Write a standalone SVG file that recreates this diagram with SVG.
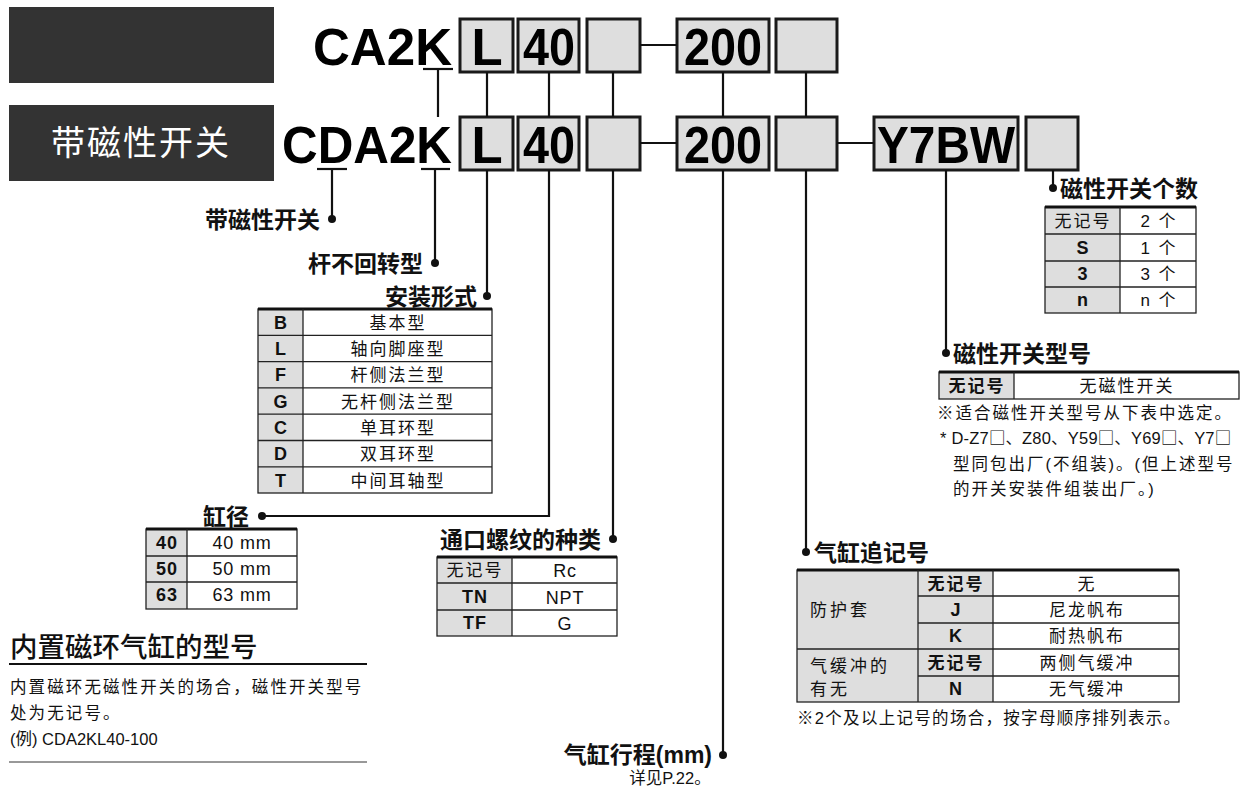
<svg xmlns="http://www.w3.org/2000/svg" width="1241" height="790" viewBox="0 0 1241 790">
<style>
.big{font-family:"Liberation Sans",Arial,sans-serif;font-weight:bold;font-size:51px;fill:#000}
.box{fill:#dedede;stroke:#1a1a1a;stroke-width:3}
.ln{stroke:#111;stroke-width:2.2;fill:none}
.dot{fill:#111}
.lab{font-family:"Noto Sans CJK SC","Liberation Sans",sans-serif;font-weight:bold;font-size:23px;fill:#111}
.cj{font-family:"Liberation Sans","Noto Sans CJK SC",sans-serif;font-size:17px;fill:#111;letter-spacing:2px}
.la{font-family:"Liberation Sans",Arial,sans-serif;font-size:18px;fill:#111;letter-spacing:0.8px}
.cb{font-family:"Liberation Sans","Noto Sans CJK SC",sans-serif;font-size:18px;font-weight:bold;fill:#111;letter-spacing:1px}
.c{text-anchor:middle}
.hd{fill:#dedede}
.tl{stroke:#222;stroke-width:1.3;fill:none}
.tk{stroke:#111;stroke-width:3}
.note{font-family:"Liberation Sans","Noto Sans CJK SC",sans-serif;font-size:16.5px;fill:#111;letter-spacing:2px}
.sq{font-family:"Noto Sans CJK SC",sans-serif;letter-spacing:0}
</style>

<g id="header-boxes">
<rect x="9" y="7" width="265" height="76" fill="#333"/>
<rect x="9" y="105" width="265" height="76" fill="#333"/>
<text x="141" y="155" fill="#fff" font-family="Noto Sans CJK SC,sans-serif" font-size="34" letter-spacing="2" text-anchor="middle">带磁性开关</text>
</g>

<g id="row1">
<text class="big" x="313" y="65" textLength="139" lengthAdjust="spacingAndGlyphs">CA2K</text>
<line class="ln" x1="423" y1="69" x2="453" y2="69"/>
<rect class="box" x="460" y="19" width="53" height="53"/>
<text class="big c" x="487" y="65">L</text>
<rect class="box" x="518" y="19" width="61" height="53"/>
<text class="big" x="523" y="65" textLength="52" lengthAdjust="spacingAndGlyphs">40</text>
<rect class="box" x="587" y="19" width="53" height="53"/>
<rect class="box" x="677" y="19" width="92" height="53"/>
<text class="big" x="684" y="65" textLength="78" lengthAdjust="spacingAndGlyphs">200</text>
<rect class="box" x="776" y="19" width="61" height="53"/>
</g>

<g id="row2">
<text class="big" x="282" y="163" textLength="170" lengthAdjust="spacingAndGlyphs">CDA2K</text>
<line class="ln" x1="317" y1="169" x2="347" y2="169"/>
<line class="ln" x1="421" y1="169" x2="450" y2="169"/>
<rect class="box" x="460" y="117" width="53" height="53"/>
<text class="big c" x="487" y="163">L</text>
<rect class="box" x="518" y="117" width="61" height="53"/>
<text class="big" x="523" y="163" textLength="52" lengthAdjust="spacingAndGlyphs">40</text>
<rect class="box" x="587" y="117" width="53" height="53"/>
<rect class="box" x="677" y="117" width="92" height="53"/>
<text class="big" x="684" y="163" textLength="78" lengthAdjust="spacingAndGlyphs">200</text>
<rect class="box" x="776" y="117" width="61" height="53"/>
<rect class="box" x="874" y="117" width="144" height="53"/>
<text class="big" x="877" y="163" textLength="138" lengthAdjust="spacingAndGlyphs">Y7BW</text>
<rect class="box" x="1026" y="117" width="52" height="53"/>
</g>

<g id="connectors">
<line class="ln" x1="640" y1="45" x2="677" y2="45"/>
<line class="ln" x1="640" y1="143" x2="677" y2="143"/>
<line class="ln" x1="837" y1="143" x2="874" y2="143"/>
<line class="ln" x1="438" y1="69" x2="438" y2="117"/>
<line class="ln" x1="487" y1="72" x2="487" y2="117"/>
<line class="ln" x1="549" y1="72" x2="549" y2="117"/>
<line class="ln" x1="613" y1="72" x2="613" y2="117"/>
<line class="ln" x1="723" y1="72" x2="723" y2="117"/>
<line class="ln" x1="806" y1="72" x2="806" y2="117"/>
<line class="ln" x1="332" y1="169" x2="332" y2="219"/>
<circle class="dot" cx="332" cy="219" r="4"/>
<line class="ln" x1="435" y1="169" x2="435" y2="263"/>
<circle class="dot" cx="435" cy="263" r="4"/>
<line class="ln" x1="487" y1="170" x2="487" y2="296"/>
<circle class="dot" cx="487" cy="296" r="4"/>
<polyline class="ln" points="549,170 549,516 262,516"/>
<circle class="dot" cx="262" cy="516" r="4"/>
<line class="ln" x1="613" y1="170" x2="613" y2="539"/>
<circle class="dot" cx="613" cy="539" r="4"/>
<line class="ln" x1="723" y1="170" x2="723" y2="755"/>
<circle class="dot" cx="723" cy="755" r="4"/>
<line class="ln" x1="806" y1="170" x2="806" y2="552"/>
<circle class="dot" cx="806" cy="552" r="4"/>
<line class="ln" x1="946" y1="170" x2="946" y2="353"/>
<circle class="dot" cx="946" cy="353" r="4"/>
<line class="ln" x1="1053" y1="170" x2="1053" y2="188"/>
<circle class="dot" cx="1053" cy="188" r="4"/>
</g>

<g id="labels">
<text class="lab" x="320" y="228" text-anchor="end">带磁性开关</text>
<text class="lab" x="423" y="272" text-anchor="end">杆不回转型</text>
<text class="lab" x="477" y="305" text-anchor="end">安装形式</text>
<text class="lab" x="249" y="525" text-anchor="end">缸径</text>
<text class="lab" x="601" y="548" text-anchor="end">通口螺纹的种类</text>
<text class="lab" x="712" y="763" text-anchor="end">气缸行程<tspan font-family="Liberation Sans,sans-serif">(mm)</tspan></text>
<text x="670" y="784" text-anchor="middle" font-family="Liberation Sans,Noto Sans CJK SC,sans-serif" font-size="16.5" fill="#111">详见P.22。</text>
<text class="lab" x="814" y="561">气缸追记号</text>
<text class="lab" x="953" y="362">磁性开关型号</text>
<text class="lab" x="1060" y="197">磁性开关个数</text>
</g>

<g id="table-mount">
<rect class="hd" x="258" y="309" width="45" height="184"/>
<rect class="tl" x="258" y="309" width="234" height="184"/>
<line class="tk" x1="258" y1="309" x2="492" y2="309"/>
<line class="tl" x1="303" y1="309" x2="303" y2="493"/>
<line class="tl" x1="258" y1="335.3" x2="492" y2="335.3"/>
<line class="tl" x1="258" y1="361.6" x2="492" y2="361.6"/>
<line class="tl" x1="258" y1="387.9" x2="492" y2="387.9"/>
<line class="tl" x1="258" y1="414.2" x2="492" y2="414.2"/>
<line class="tl" x1="258" y1="440.5" x2="492" y2="440.5"/>
<line class="tl" x1="258" y1="466.8" x2="492" y2="466.8"/>
<text class="cb c" x="281" y="329">B</text><text class="cj c" x="398" y="329">基本型</text>
<text class="cb c" x="281" y="355">L</text><text class="cj c" x="398" y="355">轴向脚座型</text>
<text class="cb c" x="281" y="381">F</text><text class="cj c" x="398" y="381">杆侧法兰型</text>
<text class="cb c" x="281" y="408">G</text><text class="cj c" x="398" y="408">无杆侧法兰型</text>
<text class="cb c" x="281" y="434">C</text><text class="cj c" x="398" y="434">单耳环型</text>
<text class="cb c" x="281" y="460">D</text><text class="cj c" x="398" y="460">双耳环型</text>
<text class="cb c" x="281" y="487">T</text><text class="cj c" x="398" y="487">中间耳轴型</text>
</g>

<g id="table-bore">
<rect class="hd" x="146" y="529" width="41" height="80"/>
<rect class="tl" x="146" y="529" width="151" height="80"/>
<line class="tk" x1="146" y1="529" x2="297" y2="529"/>
<line class="tl" x1="187" y1="529" x2="187" y2="609"/>
<line class="tl" x1="146" y1="556" x2="297" y2="556"/>
<line class="tl" x1="146" y1="582" x2="297" y2="582"/>
<text class="cb c" x="167" y="549">40</text><text class="la c" x="242" y="549">40 mm</text>
<text class="cb c" x="167" y="575">50</text><text class="la c" x="242" y="575">50 mm</text>
<text class="cb c" x="167" y="601">63</text><text class="la c" x="242" y="601">63 mm</text>
</g>

<g id="table-port">
<rect class="hd" x="437" y="557" width="75" height="79"/>
<rect class="tl" x="437" y="557" width="180" height="79"/>
<line class="tk" x1="437" y1="557" x2="617" y2="557"/>
<line class="tl" x1="512" y1="557" x2="512" y2="636"/>
<line class="tl" x1="437" y1="583" x2="617" y2="583"/>
<line class="tl" x1="437" y1="610" x2="617" y2="610"/>
<text class="cj c" x="475" y="576">无记号</text><text class="la c" x="565" y="577">Rc</text>
<text class="cb c" x="475" y="603">TN</text><text class="la c" x="565" y="604">NPT</text>
<text class="cb c" x="475" y="629">TF</text><text class="la c" x="565" y="630">G</text>
</g>

<g id="table-count">
<rect class="hd" x="1045" y="207" width="75" height="106"/>
<rect class="tl" x="1045" y="207" width="151" height="106"/>
<line class="tk" x1="1045" y1="207" x2="1196" y2="207"/>
<line class="tl" x1="1120" y1="207" x2="1120" y2="313"/>
<line class="tl" x1="1045" y1="234" x2="1196" y2="234"/>
<line class="tl" x1="1045" y1="261" x2="1196" y2="261"/>
<line class="tl" x1="1045" y1="287" x2="1196" y2="287"/>
<text class="cj c" x="1083" y="227">无记号</text><text class="cj c" x="1159" y="227">2 个</text>
<text class="cb c" x="1083" y="254">S</text><text class="cj c" x="1159" y="254">1 个</text>
<text class="cb c" x="1083" y="280">3</text><text class="cj c" x="1159" y="280">3 个</text>
<text class="cb c" x="1083" y="306">n</text><text class="cj c" x="1159" y="306">n 个</text>
</g>

<g id="table-switch">
<rect class="hd" x="939" y="372" width="75" height="27"/>
<rect class="tl" x="939" y="372" width="300" height="27"/>
<line class="tk" x1="939" y1="372" x2="1239" y2="372"/>
<line class="tl" x1="1014" y1="372" x2="1014" y2="399"/>
<text class="cj c" x="977" y="392" font-weight="bold">无记号</text>
<text class="cj c" x="1127" y="392">无磁性开关</text>
<text class="note" x="937" y="419">※适合磁性开关型号从下表中选定。</text>
<text class="note" x="940" y="444" style="letter-spacing:0.2px">* D-Z7<tspan class="sq">□</tspan>、Z80、Y59<tspan class="sq">□</tspan>、Y69<tspan class="sq">□</tspan>、Y7<tspan class="sq">□</tspan></text>
<text class="note" x="953" y="470">型同包出厂(不组装)。(但上述型号</text>
<text class="note" x="953" y="495">的开关安装件组装出厂。)</text>
</g>

<g id="table-suffix">
<rect class="hd" x="797" y="570" width="196" height="132"/>
<rect class="tl" x="797" y="570" width="382" height="132"/>
<line class="tk" x1="797" y1="570" x2="1179" y2="570"/>
<line class="tl" x1="918" y1="570" x2="918" y2="702"/>
<line class="tl" x1="993" y1="570" x2="993" y2="702"/>
<line class="tl" x1="918" y1="596" x2="1179" y2="596"/>
<line class="tl" x1="918" y1="623" x2="1179" y2="623"/>
<line class="tl" x1="797" y1="649" x2="1179" y2="649"/>
<line class="tl" x1="918" y1="676" x2="1179" y2="676"/>
<text class="cj" x="810" y="616" style="letter-spacing:3px">防护套</text>
<text class="cj" x="810" y="672" style="letter-spacing:3px">气缓冲的</text>
<text class="cj" x="810" y="695" style="letter-spacing:3px">有无</text>
<text class="cj c" x="956" y="590" font-weight="bold">无记号</text><text class="cj c" x="1087" y="590">无</text>
<text class="cb c" x="956" y="616">J</text><text class="cj c" x="1087" y="616">尼龙帆布</text>
<text class="cb c" x="956" y="642">K</text><text class="cj c" x="1087" y="642">耐热帆布</text>
<text class="cj c" x="956" y="669" font-weight="bold">无记号</text><text class="cj c" x="1087" y="669">两侧气缓冲</text>
<text class="cb c" x="956" y="695">N</text><text class="cj c" x="1087" y="695">无气缓冲</text>
<text class="note" x="797" y="724" style="letter-spacing:1.3px">※2个及以上记号的场合，按字母顺序排列表示。</text>
</g>

<g id="builtin-note">
<text x="10" y="657" font-family="Noto Sans CJK SC,sans-serif" font-size="27.5" font-weight="500" fill="#111">内置磁环气缸的型号</text>
<line x1="9" y1="664" x2="367" y2="664" stroke="#111" stroke-width="2"/>
<text class="note" x="10" y="693" style="letter-spacing:2.1px">内置磁环无磁性开关的场合，磁性开关型号</text>
<text class="note" x="10" y="719" style="letter-spacing:2.1px">处为无记号。</text>
<text class="note" x="10" y="745" style="letter-spacing:0px">(例) CDA2KL40-100</text>
<line x1="9" y1="762" x2="367" y2="762" stroke="#333" stroke-width="1"/>
</g>
</svg>
